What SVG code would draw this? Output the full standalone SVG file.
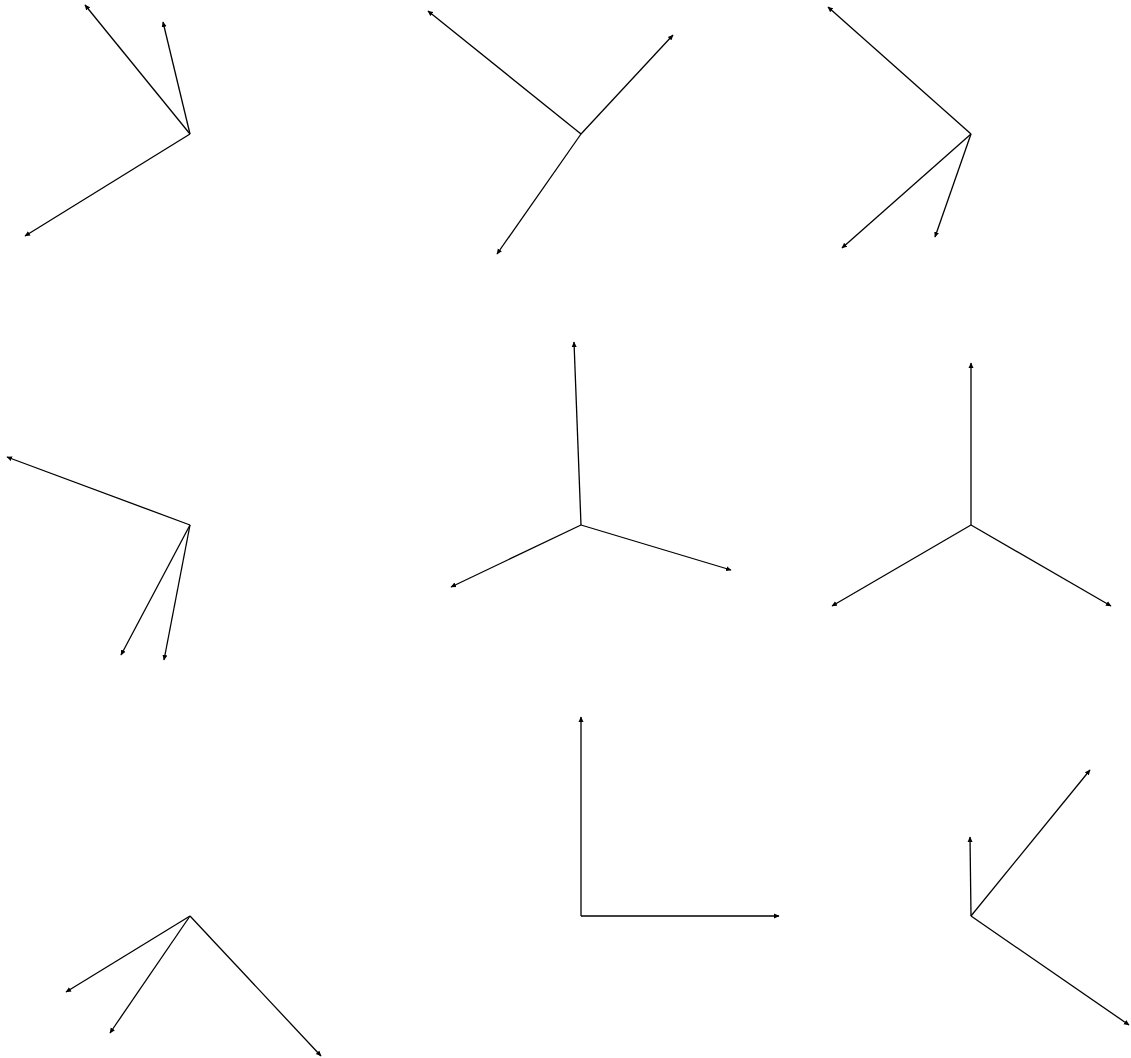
<svg xmlns="http://www.w3.org/2000/svg" width="1131" height="1058" viewBox="0 0 1131 1058">
<style>
.e{stroke:#000;stroke-width:1.3;fill:none;marker-end:url(#ah)}
</style>
<defs>
<marker id="ah" markerUnits="userSpaceOnUse" markerWidth="6" markerHeight="6" viewBox="0 0 6 6" refX="5" refY="3" orient="auto">
<path d="M0,0.5 L5.5,3 L0,5.5 z" fill="#000"/>
</marker>
</defs>
<rect width="1131" height="1058" fill="#fff"/>
<g id="connectors">
<g id="p1"><path class="e" d="M190,134 L85,5"/><path class="e" d="M190,134 L163,22"/><path class="e" d="M190,134 L25,236"/></g>
<g id="p2"><path class="e" d="M581,134 L428,11"/><path class="e" d="M581,134 L673,35"/><path class="e" d="M581,134 L497,254"/></g>
<g id="p3"><path class="e" d="M971,134 L828,7"/><path class="e" d="M971,134 L842,248"/><path class="e" d="M971,134 L935,237"/></g>
<g id="p4"><path class="e" d="M190,525 L7,457"/><path class="e" d="M190,525 L121,655"/><path class="e" d="M190,525 L164,660"/></g>
<g id="p5"><path class="e" d="M581,525 L574,342"/><path class="e" d="M581,525 L451,587"/><path class="e" d="M581,525 L731,570"/></g>
<g id="p6"><path class="e" d="M971,525 L971,363"/><path class="e" d="M971,525 L832,606"/><path class="e" d="M971,525 L1111,606"/></g>
<g id="p7"><path class="e" d="M190,916 L66,992"/><path class="e" d="M190,916 L110,1033"/><path class="e" d="M190,916 L321,1056"/></g>
<g id="p8"><path class="e" d="M581,916 L581,717"/><path class="e" d="M581,916 L779,916"/></g>
<g id="p9"><path class="e" d="M971,916 L970,837"/><path class="e" d="M971,916 L1090,770"/><path class="e" d="M971,916 L1129,1025"/></g>
</g>
</svg>
